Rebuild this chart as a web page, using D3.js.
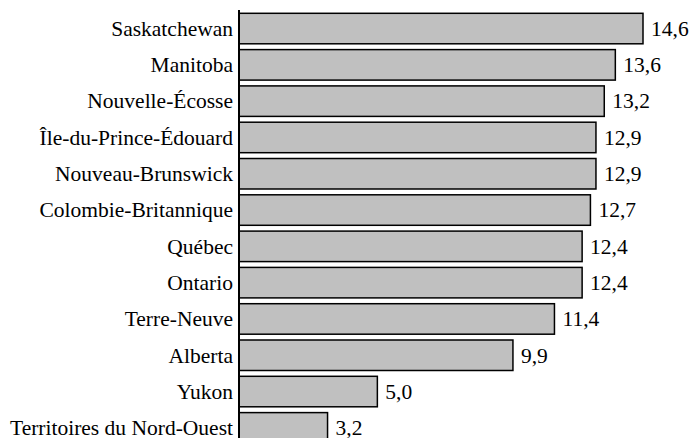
<!DOCTYPE html>
<html>
<head>
<meta charset="utf-8">
<script src="https://cdn.jsdelivr.net/npm/d3@7"></script>
<style>
  body { margin: 0; background: #fff; }
  svg { display: block; }
  text { font-family: "Liberation Serif", "Times New Roman", Times, "DejaVu Serif", serif; font-size: 21.5px; }
</style>
</head>
<body>
<script>
// données
const provinces = ["Saskatchewan", "Manitoba", "Nouvelle-Écosse", "Île-du-Prince-Édouard",
  "Nouveau-Brunswick", "Colombie-Britannique", "Québec", "Ontario", "Terre-Neuve",
  "Alberta", "Yukon", "Territoires du Nord-Ouest"];
const valeurs = [14.6, 13.6, 13.2, 12.9, 12.9, 12.7, 12.4, 12.4, 11.4, 9.9, 5.0, 3.2];

const width = 690, height = 438;
const x0 = 239;

const svg = d3.select("body").append("svg")
    .attr("width", width)
    .attr("height", height);

const x = d3.scaleLinear().domain([0, 14.6]).range([x0, 643]);
const y = d3.scaleBand().domain(provinces).range([10.4, 446]).paddingInner(0.16).paddingOuter(0.08);

const fmt = d => d3.format(".1f")(d).replace(".", ",");

const rows = svg.selectAll("g.row")
    .data(provinces)
    .enter().append("g")
    .attr("class", "row");

rows.append("rect")
    .attr("x", x(0))
    .attr("y", d => y(d))
    .attr("width", (d, i) => x(valeurs[i]) - x(0))
    .attr("height", y.bandwidth())
    .attr("fill", "#c0c0c0")
    .attr("stroke", "#000")
    .attr("stroke-width", 1.5);

rows.append("text")
    .attr("x", x0 - 6)
    .attr("y", d => y(d) + y.bandwidth() / 2)
    .attr("dy", "0.34em")
    .attr("text-anchor", "end")
    .text(d => d);

rows.append("text")
    .attr("x", (d, i) => x(valeurs[i]) + 8)
    .attr("y", d => y(d) + y.bandwidth() / 2)
    .attr("dy", "0.34em")
    .text((d, i) => fmt(valeurs[i]));

// axe vertical
svg.append("line")
    .attr("x1", x0).attr("x2", x0)
    .attr("y1", 10).attr("y2", height)
    .attr("stroke", "#000")
    .attr("stroke-width", 2);
</script>
</body>
</html>
